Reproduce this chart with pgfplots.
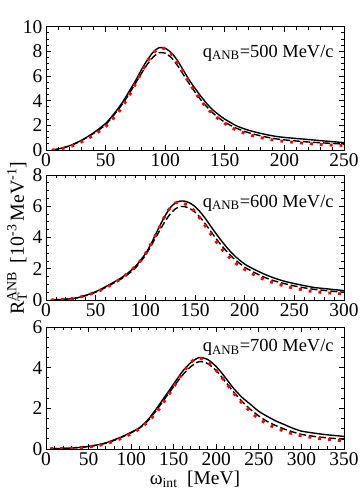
\documentclass[border=0pt]{standalone}
\usepackage{fontspec}
\setmainfont{Liberation Serif}
\usepackage{pgfplots}
\pgfplotsset{compat=1.18}

\pgfplotsset{
  panel/.style={
    width=298bp, scale only axis,
    xmin=0, ymin=0,
    tick align=inside, tick pos=both,
    minor x tick num=4, minor y tick num=3,
    major tick length=5bp, minor tick length=3bp,
    axis line style={line width=0.9bp},
    every tick/.style={black, line width=0.8bp},
    tick label style={font=\fontsize{19.5}{21}\selectfont},
    /pgf/number format/assume math mode=true,
    xticklabel style={inner sep=3.5bp},
    yticklabel style={inner sep=3.5bp},
    anchor=south west,
  },
  cfull/.style={black, line width=1.4bp, no marks, smooth, tension=0.4},
  cdash/.style={black, line width=1.4bp, no marks, smooth, tension=0.4, dash pattern=on 7bp off 3bp},
  cdot/.style={red, line width=2.9bp, no marks, smooth, tension=0.4, dash pattern=on 2.9bp off 7bp},
}
\tikzset{qlab/.style={anchor=east, font=\fontsize{18.5}{20}\selectfont}}

\begin{document}
\begin{tikzpicture}
\useasboundingbox (-46bp,-44bp) rectangle (314bp,449bp);

% top panel, q = 500 MeV/c
\begin{axis}[panel, name=p1, at={(0,299bp)}, height=123.3bp,
  xmax=250, ymax=10, xtick={0,50,...,250}, ytick={0,2,...,10}]
\addplot[cfull] coordinates {(5,0)(10,0.08)(20,0.35)(30,0.8)(40,1.4)(50,2.15)(55,2.7)(60,3.3)(65,4.0)(70,4.8)(75,5.6)(80,6.5)(85,7.3)(90,7.95)(95,8.3)(100,8.25)(105,7.9)(110,7.3)(115,6.5)(120,5.7)(125,5.0)(130,4.35)(135,3.75)(140,3.25)(145,2.85)(150,2.5)(160,1.95)(170,1.6)(180,1.35)(190,1.15)(200,1.02)(220,0.85)(235,0.72)(250,0.6)};
\addplot[cdash] coordinates {(5,0)(10,0.07)(20,0.33)(30,0.78)(40,1.35)(50,2.05)(60,3.2)(65,3.85)(70,4.6)(75,5.4)(80,6.2)(85,6.95)(90,7.55)(95,7.9)(100,7.85)(105,7.5)(110,6.9)(115,6.15)(120,5.4)(125,4.7)(130,4.05)(135,3.5)(140,3.0)(145,2.6)(150,2.25)(160,1.75)(170,1.4)(180,1.15)(190,0.95)(200,0.82)(220,0.65)(235,0.56)(250,0.48)};
\addplot[cdot] coordinates {(5,0)(10,0.05)(20,0.26)(30,0.66)(40,1.2)(50,1.9)(60,2.95)(65,3.65)(70,4.45)(75,5.35)(80,6.25)(85,7.15)(90,7.85)(95,8.28)(100,8.2)(105,7.8)(110,7.1)(115,6.3)(120,5.5)(125,4.7)(130,4.0)(135,3.4)(140,2.9)(145,2.5)(150,2.15)(160,1.6)(170,1.25)(180,1.0)(190,0.82)(200,0.7)(220,0.52)(235,0.42)(250,0.35)};
\end{axis}

% middle panel, q = 600 MeV/c
\begin{axis}[panel, name=p2, at={(0,149bp)}, height=125bp,
  xmax=300, ymax=8, xtick={0,50,...,300}, ytick={0,2,...,8}]
\addplot[cfull] coordinates {(5,0)(20,0.05)(30,0.12)(40,0.3)(50,0.53)(60,0.85)(70,1.2)(80,1.6)(90,2.15)(100,2.95)(105,3.5)(110,4.15)(115,4.8)(120,5.4)(125,5.9)(130,6.2)(135,6.33)(140,6.32)(145,6.2)(150,5.98)(155,5.65)(160,5.25)(165,4.8)(170,4.35)(175,3.92)(180,3.52)(185,3.15)(190,2.82)(200,2.3)(210,1.95)(220,1.65)(230,1.4)(240,1.2)(250,1.05)(260,0.92)(270,0.8)(285,0.7)(300,0.6)};
\addplot[cdash] coordinates {(5,0)(20,0.05)(30,0.12)(40,0.28)(50,0.5)(60,0.8)(70,1.15)(80,1.52)(90,2.05)(100,2.85)(105,3.38)(110,3.95)(115,4.5)(120,5.05)(125,5.5)(130,5.82)(135,5.98)(140,5.97)(145,5.85)(150,5.63)(155,5.3)(160,4.9)(165,4.47)(170,4.03)(175,3.62)(180,3.25)(185,2.9)(190,2.6)(200,2.1)(210,1.75)(220,1.45)(230,1.22)(240,1.05)(250,0.9)(260,0.78)(270,0.68)(285,0.58)(300,0.5)};
\addplot[cdot] coordinates {(5,0)(15,0.03)(25,0.08)(35,0.2)(45,0.38)(55,0.62)(65,0.95)(75,1.35)(85,1.85)(95,2.5)(100,2.95)(105,3.5)(110,4.1)(115,4.75)(120,5.4)(125,5.9)(130,6.2)(135,6.28)(140,6.15)(145,5.95)(150,5.65)(155,5.22)(160,4.77)(165,4.3)(170,3.85)(175,3.42)(180,3.02)(190,2.4)(200,1.95)(210,1.6)(220,1.3)(230,1.08)(240,0.9)(250,0.75)(260,0.63)(270,0.53)(285,0.45)(300,0.38)};
\end{axis}

% bottom panel, q = 700 MeV/c
\begin{axis}[panel, name=p3, at={(0,0)}, height=122bp,
  xmax=350, ymax=6, xtick={0,50,...,350}, ytick={0,2,...,6}]
\addplot[cfull] coordinates {(5,0.02)(20,0.03)(30,0.05)(40,0.08)(50,0.13)(60,0.2)(70,0.3)(80,0.45)(90,0.62)(100,0.82)(110,1.05)(120,1.45)(130,2.0)(140,2.6)(150,3.2)(160,3.8)(170,4.25)(180,4.5)(190,4.4)(200,4.05)(210,3.55)(220,3.0)(230,2.55)(240,2.2)(250,1.85)(260,1.6)(270,1.38)(280,1.2)(290,1.02)(300,0.88)(315,0.78)(330,0.7)(350,0.62)};
\addplot[cdash] coordinates {(5,0.02)(20,0.03)(30,0.05)(40,0.08)(50,0.12)(60,0.19)(70,0.28)(80,0.42)(90,0.6)(100,0.8)(110,1.03)(120,1.4)(130,1.92)(140,2.5)(150,3.07)(160,3.62)(170,4.05)(180,4.3)(190,4.2)(200,3.85)(210,3.35)(220,2.82)(230,2.35)(240,1.95)(250,1.62)(260,1.35)(270,1.15)(280,0.98)(290,0.84)(300,0.72)(315,0.62)(330,0.55)(350,0.48)};
\addplot[cdot] coordinates {(5,0.02)(20,0.02)(30,0.03)(40,0.05)(50,0.1)(60,0.15)(70,0.25)(80,0.38)(90,0.55)(100,0.75)(110,1.0)(120,1.35)(130,1.8)(140,2.4)(150,3.05)(160,3.7)(170,4.25)(177,4.48)(185,4.4)(195,4.1)(205,3.6)(215,3.05)(225,2.5)(235,2.05)(245,1.65)(255,1.35)(265,1.12)(275,0.95)(285,0.8)(300,0.65)(315,0.55)(330,0.47)(350,0.4)};
\end{axis}

% panel labels and axis titles
\node[qlab] at (291.1bp,396.0bp) {q\textsubscript{ANB}=500 MeV/c};
\node[qlab] at (291.1bp,246.0bp) {q\textsubscript{ANB}=600 MeV/c};
\node[qlab] at (291.1bp,101.3bp) {q\textsubscript{ANB}=700 MeV/c};
\node[rotate=90, font=\fontsize{20}{22}\selectfont] at (-29bp,211bp)
  {R\rlap{\textsubscript{T}}\textsuperscript{ANB}\, [10\textsuperscript{-3}\,MeV\textsuperscript{-1}]};
\node[anchor=base, inner sep=0pt, font=\fontsize{19.5}{21}\selectfont] at (149bp,-35bp)
  {ω\textsubscript{int}\enspace[MeV]};
\end{tikzpicture}
\end{document}
